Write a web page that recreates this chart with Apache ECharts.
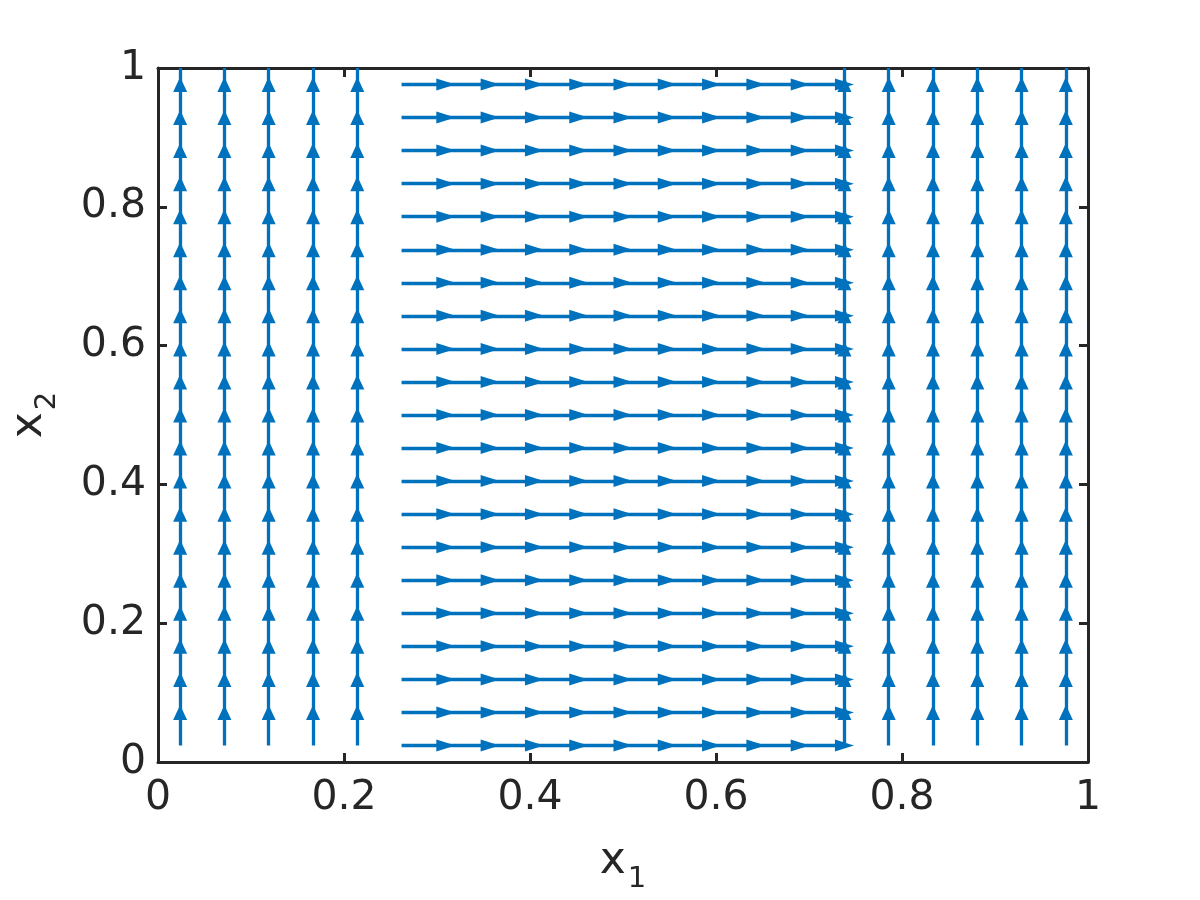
<!DOCTYPE html>
<html>
<head>
<meta charset="utf-8">
<title>Streamlines</title>
<script src="https://cdn.jsdelivr.net/npm/echarts@6/dist/echarts.min.js"></script>
<style>
  html, body { margin: 0; padding: 0; background: #fff; }
  #main { width: 1200px; height: 900px; }
</style>
</head>
<body>
<div id="main"></div>
<script>
// grid cell centres (21 x 21)
var gridPts = [0.0238, 0.0714, 0.1190, 0.1667, 0.2143, 0.2619, 0.3095, 0.3571, 0.4048, 0.4524, 0.5000,
               0.5476, 0.5952, 0.6429, 0.6905, 0.7381, 0.7857, 0.8333, 0.8810, 0.9286, 0.9762];

// vertical streamlines (flow upward)
var upLineX = [0.0238, 0.0714, 0.1190, 0.1667, 0.2143, 0.7381, 0.7857, 0.8333, 0.8810, 0.9286, 0.9762];
var upLineStart = 0.0238;
var upLineEnd = 1.0;
var upArrowY = [0.0714, 0.1190, 0.1667, 0.2143, 0.2619, 0.3095, 0.3571, 0.4048, 0.4524, 0.5000,
                0.5476, 0.5952, 0.6429, 0.6905, 0.7381, 0.7857, 0.8333, 0.8810, 0.9286, 0.9762];

// horizontal streamlines (flow to the right)
var rightLineY = gridPts;
var rightLineStart = 0.2619;
var rightLineEnd = 0.7381;
var rightArrowX = [0.3095, 0.3571, 0.4048, 0.4524, 0.5000, 0.5476, 0.5952, 0.6429, 0.6905, 0.7381];

var ticks = ['0', '0.2', '0.4', '0.6', '0.8', '1'];

var blue = '#0072BD';
var ink = '#262626';

var lineData = [];
upLineX.forEach(function (x) {
    lineData.push({ coords: [[x, upLineStart], [x, upLineEnd]] });
});
rightLineY.forEach(function (y) {
    lineData.push({ coords: [[rightLineStart, y], [rightLineEnd, y]] });
});

var upArrows = [];
upLineX.forEach(function (x) {
    upArrowY.forEach(function (y) { upArrows.push([x, y]); });
});
var rightArrows = [];
rightLineY.forEach(function (y) {
    rightArrowX.forEach(function (x) { rightArrows.push([x, y]); });
});

var myChart = echarts.init(document.getElementById('main'), null, { renderer: 'canvas' });

var tickLabel = function (v) {
    var i = Math.round(v * 5);
    return ticks[i];
};

var baseAxis = {
    min: 0, max: 1, interval: 0.2,
    axisLine: { show: true, onZero: false, lineStyle: { color: ink, width: 3 } },
    axisTick: { show: true, inside: true, length: 9, lineStyle: { color: ink, width: 3 } },
    splitLine: { show: false }
};

var titleRich = {
    a: { fontSize: 44, color: ink, fontFamily: 'DejaVu Sans' },
    b: { fontSize: 29, color: ink, fontFamily: 'DejaVu Sans', padding: [36, 0, 0, 2] }
};

var option = {
    animation: false,
    backgroundColor: '#fff',
    textStyle: { fontFamily: 'DejaVu Sans' },
    grid: { left: 158, right: 112, top: 68, bottom: 138, containLabel: false, outerBoundsMode: 'none' },
    xAxis: [
        Object.assign({}, baseAxis, {
            type: 'value', position: 'bottom',
            name: '{a|x}{b|1}', nameLocation: 'middle', nameGap: 67,
            nameTextStyle: { rich: titleRich },
            axisLabel: { fontSize: 41, color: ink, margin: 16, formatter: tickLabel }
        }),
        Object.assign({}, baseAxis, {
            type: 'value', position: 'top',
            axisLabel: { show: false }
        })
    ],
    yAxis: [
        Object.assign({}, baseAxis, {
            type: 'value', position: 'left',
            name: '{a|x}{b|2}', nameLocation: 'middle', nameGap: 96, nameRotate: 90,
            nameTextStyle: { rich: titleRich },
            axisLabel: { fontSize: 41, color: ink, margin: 12, formatter: tickLabel }
        }),
        Object.assign({}, baseAxis, {
            type: 'value', position: 'right',
            axisLabel: { show: false }
        })
    ],
    series: [
        {
            type: 'lines',
            coordinateSystem: 'cartesian2d',
            polyline: false,
            silent: true,
            lineStyle: { color: blue, width: 3.3, opacity: 1 },
            data: lineData,
            z: 3
        },
        {
            type: 'scatter',
            symbol: 'triangle',
            symbolSize: [14, 15],
            itemStyle: { color: blue, opacity: 1 },
            data: upArrows,
            silent: true,
            z: 4
        },
        {
            type: 'scatter',
            symbol: 'triangle',
            symbolSize: [12, 19],
            symbolRotate: -90,
            itemStyle: { color: blue, opacity: 1 },
            data: rightArrows,
            silent: true,
            z: 4
        }
    ]
};

myChart.setOption(option);
</script>
</body>
</html>
